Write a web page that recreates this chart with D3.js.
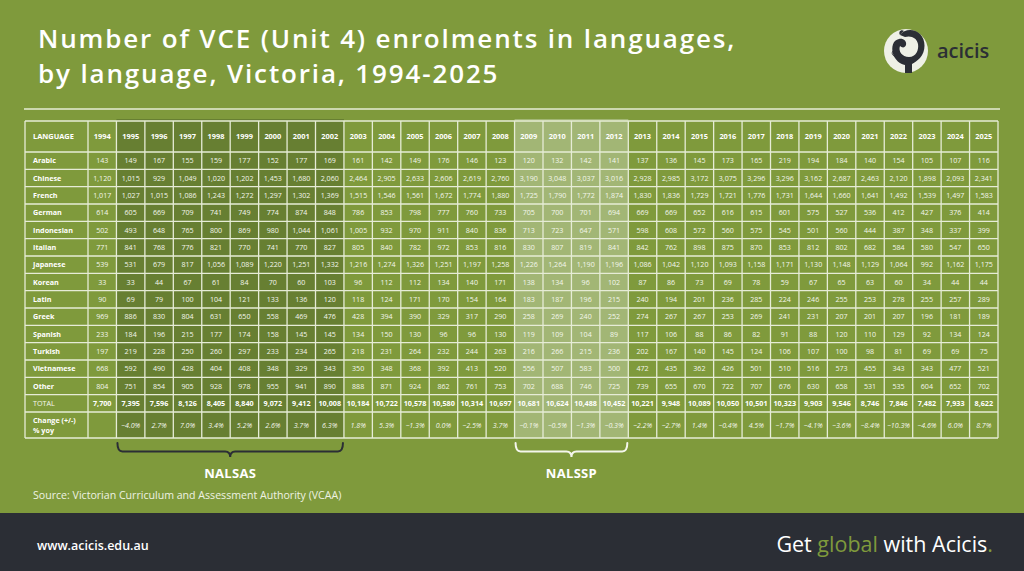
<!DOCTYPE html>
<html>
<head>
<meta charset="utf-8">
<script src="https://cdn.jsdelivr.net/npm/d3@7"></script>
<style>
  html, body { margin: 0; padding: 0; background: #7f9a3c; }
  svg { display: block; }
</style>
</head>
<body>
<div id="chart"></div>
<script>
(function() {
  'use strict';

  var years = d3.range(1994, 2026);
  var languages = ["Arabic", "Chinese", "French", "German", "Indonesian", "Italian", "Japanese",
                   "Korean", "Latin", "Greek", "Spanish", "Turkish", "Vietnamese", "Other"];

  var arabic = [143,149,167,155,159,177,152,177,169,161,142,149,176,146,123,120,132,142,141,137,136,145,173,165,219,194,184,140,154,105,107,116];
  var chinese = [1120,1015,929,1049,1020,1202,1453,1680,2060,2464,2905,2633,2606,2619,2760,3190,3048,3037,3016,2928,2985,3172,3075,3296,3296,3162,2687,2463,2120,1898,2093,2341];
  var french = [1017,1027,1015,1086,1243,1272,1297,1302,1369,1515,1546,1561,1672,1774,1880,1725,1790,1772,1874,1830,1836,1729,1721,1776,1731,1644,1660,1641,1492,1539,1497,1583];
  var german = [614,605,669,709,741,749,774,874,848,786,853,798,777,760,733,705,700,701,694,669,669,652,616,615,601,575,527,536,412,427,376,414];
  var indonesian = [502,493,648,765,800,869,980,1044,1061,1005,932,970,911,840,836,713,723,647,571,598,608,572,560,575,545,501,560,444,387,348,337,399];
  var italian = [771,841,768,776,821,770,741,770,827,805,840,782,972,853,816,830,807,819,841,842,762,898,875,870,853,812,802,682,584,580,547,650];
  var japanese = [539,531,679,817,1056,1089,1220,1251,1332,1216,1274,1326,1251,1197,1258,1226,1264,1190,1196,1086,1042,1120,1093,1158,1171,1130,1148,1129,1064,992,1162,1175];
  var korean = [33,33,44,67,61,84,70,60,103,96,112,112,134,140,171,138,134,96,102,87,86,73,69,78,59,67,65,63,60,34,44,44];
  var latin = [90,69,79,100,104,121,133,136,120,118,124,171,170,154,164,183,187,196,215,240,194,201,236,285,224,246,255,253,278,255,257,289];
  var greek = [969,886,830,804,631,650,558,469,476,428,394,390,329,317,290,258,269,240,252,274,267,267,253,269,241,231,207,201,207,196,181,189];
  var spanish = [233,184,196,215,177,174,158,145,145,134,150,130,96,96,130,119,109,104,89,117,106,88,86,82,91,88,120,110,129,92,134,124];
  var turkish = [197,219,228,250,260,297,233,234,265,218,231,264,232,244,263,216,266,215,236,202,167,140,145,124,106,107,100,98,81,69,69,75];
  var vietnamese = [668,592,490,428,404,408,348,329,343,350,348,368,392,413,520,556,507,583,500,472,435,362,426,501,510,516,573,455,343,343,477,521];
  var other = [804,751,854,905,928,978,955,941,890,888,871,924,862,761,753,702,688,746,725,739,655,670,722,707,676,630,658,531,535,604,652,702];

  var total = [7700,7395,7596,8126,8405,8840,9072,9412,10008,10184,10722,10578,10580,10314,10697,10681,10624,10488,10452,10221,9948,10089,10050,10501,10323,9903,9546,8746,7846,7482,7933,8622];
  var change = [null,-4.0,2.7,7.0,3.4,5.2,2.6,3.7,6.3,1.8,5.3,-1.3,0.0,-2.5,3.7,-0.1,-0.5,-1.3,-0.3,-2.2,-2.7,1.4,-0.4,4.5,-1.7,-4.1,-3.6,-8.4,-10.3,-4.6,6.0,8.7];

  var programs = [
    { name: "NALSAS", from: 1995, to: 2002, shade: "dark" },
    { name: "NALSSP", from: 2009, to: 2012, shade: "light" }
  ];

  var series = [arabic, chinese, french, german, indonesian, italian, japanese,
                korean, latin, greek, spanish, turkish, vietnamese, other];

  var W = 1024, H = 571;
  var green = "#7f9a3c", ink = "#2b2e35", line = "#e6ecd6", txt = "#f4f6ec";
  var font = "'Open Sans', 'DejaVu Sans', sans-serif";
  var fmt = d3.format(",");

  var svg = d3.select("#chart").append("svg")
    .attr("width", W).attr("height", H)
    .style("font-family", font);

  svg.append("rect").attr("width", W).attr("height", H).attr("fill", green);

  // Title
  var title = svg.append("text")
    .attr("x", 38).attr("fill", "#fff")
    .attr("font-size", 26).attr("font-weight", 600)
    .attr("letter-spacing", 1.85);
  title.append("tspan").attr("x", 38).attr("y", 48).text("Number of VCE (Unit 4) enrolments in languages,");
  title.append("tspan").attr("x", 38).attr("y", 83).text("by language, Victoria, 1994-2025");

  svg.append("line")
    .attr("x1", 24).attr("x2", 1000).attr("y1", 109).attr("y2", 109)
    .attr("stroke", line).attr("stroke-width", 1.5);

  // Logo: light disc with a dark stylised bird
  var logo = svg.append("g").attr("transform", "translate(906,51)");
  logo.append("circle").attr("r", 22).attr("fill", "#eef0e6");
  logo.append("path")
    .attr("fill", ink)
    .attr("d", "M-6,-16 C-2,-22 8,-23 14,-17 C20,-11 20,0 14,7 C11,10 8,12 6,13 L6,22 L-1,22 L-1,14 C-6,13 -11,9 -13,3 C-15,-4 -13,-11 -7,-12 C-3,-13 1,-10 0,-6 C-1,-3 -4,-3 -6,-5 C-8,0 -4,6 3,6 C10,6 13,-1 12,-7 C11,-13 5,-16 -1,-14 Z");
  logo.append("path")
    .attr("fill", ink)
    .attr("d", "M-6,-16 C-8,-19 -5,-22 -2,-20 C-4,-19 -5,-17 -6,-16 Z");
  logo.append("path")
    .attr("fill", "none").attr("stroke", ink).attr("stroke-width", 0.9)
    .attr("d", "M-12,-1 C-15,1 -14,5 -11,5 M-9,2 C-11,3 -10,6 -8,5");
  svg.append("text")
    .attr("x", 937).attr("y", 58)
    .attr("fill", ink).attr("font-size", 20).attr("font-weight", 600)
    .text("acicis");

  // Table geometry
  var tableLeft = 25, tableRight = 998, labelRight = 88;
  var headTop = 121, headBottom = 152, rowsBottom = 412, tableBottom = 438;

  var x = d3.scaleBand().domain(years).range([labelRight, tableRight]);
  var rowKeys = languages.concat(["TOTAL"]);
  var y = d3.scaleBand().domain(rowKeys).range([headBottom, rowsBottom]);

  // Program shading bands
  svg.append("g").selectAll("rect")
    .data(programs)
    .join("rect")
    .attr("x", function(d) { return x(d.from); })
    .attr("width", function(d) { return x(d.to) + x.bandwidth() - x(d.from); })
    .attr("y", headTop - 2)
    .attr("height", tableBottom - headTop + 2)
    .attr("fill", function(d) { return d.shade === "dark" ? "#677f32" : "#a2b675"; });

  // Grid
  var grid = svg.append("g")
    .attr("stroke", line).attr("stroke-width", 1.3).attr("fill", "none");
  var hLines = [headTop, headBottom].concat(rowKeys.map(function(k) { return y(k) + y.bandwidth(); }), [tableBottom]);
  grid.selectAll("line.h")
    .data(hLines)
    .join("line")
    .attr("class", "h")
    .attr("x1", tableLeft).attr("x2", tableRight)
    .attr("y1", function(d) { return d; }).attr("y2", function(d) { return d; });
  var vLines = [tableLeft, labelRight].concat(years.map(function(yr) { return x(yr) + x.bandwidth(); }));
  grid.selectAll("line.v")
    .data(vLines)
    .join("line")
    .attr("class", "v")
    .attr("x1", function(d) { return d; }).attr("x2", function(d) { return d; })
    .attr("y1", headTop).attr("y2", tableBottom);

  // Header
  var head = svg.append("g").attr("fill", "#fff").attr("font-weight", 700).attr("font-size", 7.4);
  head.append("text")
    .attr("x", 33).attr("y", (headTop + headBottom) / 2).attr("dy", "0.35em")
    .text("LANGUAGE");
  head.selectAll("text.yr")
    .data(years)
    .join("text")
    .attr("class", "yr")
    .attr("text-anchor", "middle")
    .attr("x", function(d) { return x(d) + x.bandwidth() / 2; })
    .attr("y", (headTop + headBottom) / 2).attr("dy", "0.35em")
    .text(function(d) { return d; });

  // Language rows
  var rows = svg.append("g").selectAll("g")
    .data(languages.map(function(l, i) { return { name: l, values: series[i] }; }))
    .join("g")
    .attr("transform", function(d) { return "translate(0," + (y(d.name) + y.bandwidth() / 2) + ")"; });

  rows.append("text")
    .attr("x", 33).attr("dy", "0.35em")
    .attr("fill", "#fff").attr("font-weight", 700).attr("font-size", 7.2)
    .text(function(d) { return d.name; });

  rows.selectAll("text.v")
    .data(function(d) { return d.values; })
    .join("text")
    .attr("class", "v")
    .attr("text-anchor", "middle")
    .attr("x", function(d, i) { return x(years[i]) + x.bandwidth() / 2; })
    .attr("dy", "0.35em")
    .attr("fill", txt).attr("font-size", 7.1).attr("font-weight", 400)
    .text(function(d) { return fmt(d); });

  // Total row
  var tot = svg.append("g")
    .attr("transform", "translate(0," + (y("TOTAL") + y.bandwidth() / 2) + ")");
  tot.append("text")
    .attr("x", 33).attr("dy", "0.35em")
    .attr("fill", txt).attr("font-size", 7.2).attr("font-weight", 400)
    .text("TOTAL");
  tot.selectAll("text.v")
    .data(total)
    .join("text")
    .attr("class", "v")
    .attr("text-anchor", "middle")
    .attr("x", function(d, i) { return x(years[i]) + x.bandwidth() / 2; })
    .attr("dy", "0.35em")
    .attr("fill", "#fff").attr("font-size", 7.2).attr("font-weight", 700)
    .text(function(d) { return fmt(d); });

  // Change row
  var chg = svg.append("g")
    .attr("transform", "translate(0," + ((rowsBottom + tableBottom) / 2) + ")");
  var chgLabel = chg.append("text")
    .attr("fill", "#fff").attr("font-size", 7.2).attr("font-weight", 700);
  chgLabel.append("tspan").attr("x", 33).attr("y", -2).text("Change (+/-)");
  chgLabel.append("tspan").attr("x", 33).attr("y", 8).text("% yoy");
  chg.selectAll("text.v")
    .data(change)
    .join("text")
    .attr("class", "v")
    .attr("text-anchor", "middle")
    .attr("x", function(d, i) { return x(years[i]) + x.bandwidth() / 2; })
    .attr("dy", "0.35em")
    .attr("fill", "#f4f6ec").attr("font-size", 7.1).attr("font-style", "italic").attr("font-weight", 400)
    .text(function(d) { return d === null ? "" : d3.format(".1f")(d) + "%"; });

  // Braces under program bands
  function brace(x0, x1, y0, h) {
    var m = (x0 + x1) / 2, r = 5, yc = y0 + h * 0.6;
    return "M" + x0 + "," + y0 +
      " Q" + x0 + "," + yc + " " + (x0 + r) + "," + yc +
      " L" + (m - r) + "," + yc +
      " Q" + m + "," + yc + " " + m + "," + (y0 + h) +
      " Q" + m + "," + yc + " " + (m + r) + "," + yc +
      " L" + (x1 - r) + "," + yc +
      " Q" + x1 + "," + yc + " " + x1 + "," + y0;
  }

  var braces = svg.append("g").selectAll("g")
    .data(programs)
    .join("g");
  braces.append("path")
    .attr("fill", "none").attr("stroke-width", 2).attr("stroke-linecap", "round")
    .attr("stroke", function(d) { return d.shade === "dark" ? ink : "#f4f6ec"; })
    .attr("d", function(d) {
      return brace(x(d.from) + 1, x(d.to) + x.bandwidth() - 1, 443, 14);
    });
  braces.append("text")
    .attr("text-anchor", "middle")
    .attr("x", function(d) { return (x(d.from) + x(d.to) + x.bandwidth()) / 2; })
    .attr("y", 478)
    .attr("fill", "#fff").attr("font-size", 13).attr("font-weight", 700)
    .attr("letter-spacing", 0.3)
    .text(function(d) { return d.name; });

  svg.append("text")
    .attr("x", 33).attr("y", 499)
    .attr("fill", "#eef2e2").attr("font-size", 10.6)
    .text("Source: Victorian Curriculum and Assessment Authority (VCAA)");

  // Footer
  svg.append("rect")
    .attr("y", 513).attr("width", W).attr("height", H - 513)
    .attr("fill", ink);
  svg.append("text")
    .attr("x", 37).attr("y", 550)
    .attr("fill", "#fff").attr("font-size", 12.5).attr("font-weight", 600)
    .text("www.acicis.edu.au");
  var tag = svg.append("text")
    .attr("x", 993).attr("y", 552).attr("text-anchor", "end")
    .attr("fill", "#fff").attr("font-size", 21.5).attr("font-weight", 500);
  tag.append("tspan").text("Get ");
  tag.append("tspan").attr("fill", green).text("global");
  tag.append("tspan").text(" with Acicis");
  tag.append("tspan").attr("fill", green).text(".");
}());
</script>
</body>
</html>
